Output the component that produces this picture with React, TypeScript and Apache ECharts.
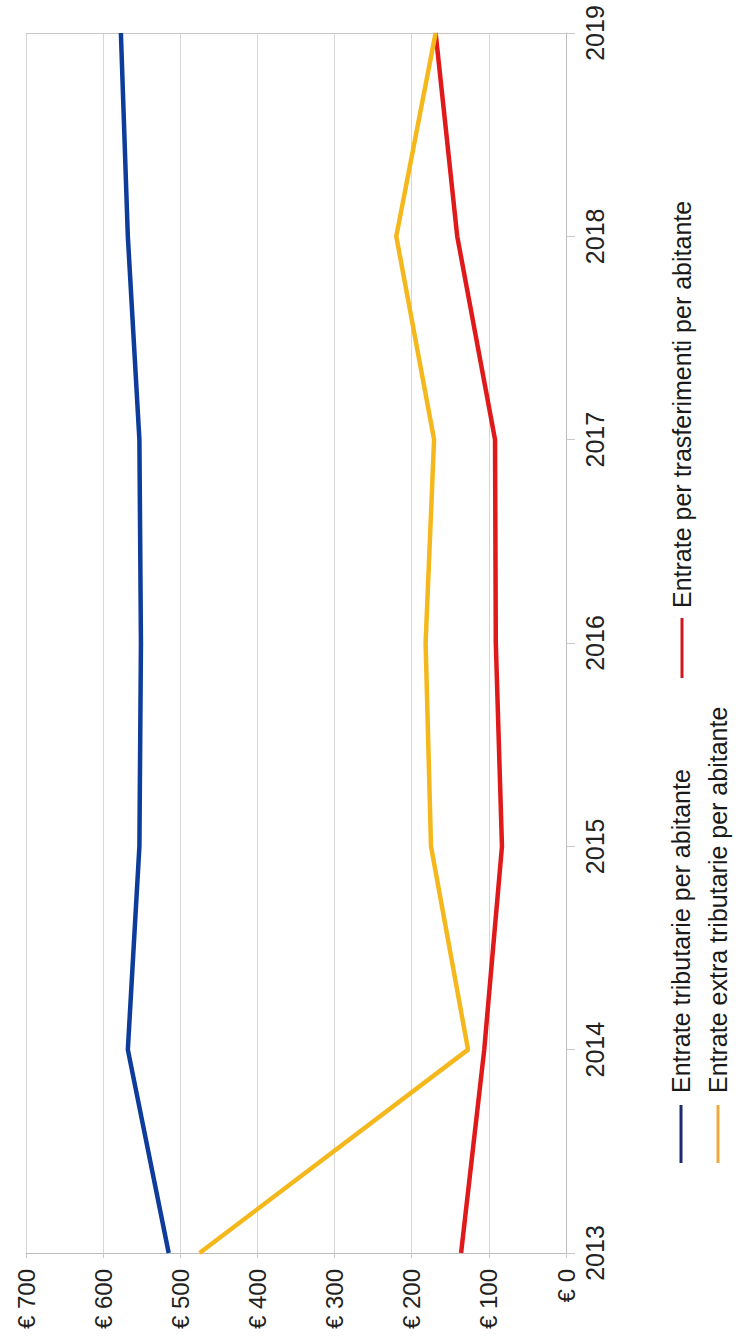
import React, { useEffect, useRef } from "react";
import * as echarts from "echarts";

const years = ["2013", "2014", "2015", "2016", "2017", "2018", "2019"];
const tributarie = [515, 568, 553, 551, 553, 568, 577];
const extraTributarie = [475, 127, 175, 182, 171, 220, 169];
const trasferimenti = [136, 106, 83, 91, 92, 141, 169];
const valueMin = 0;
const valueMax = 700;
const valueInterval = 100;
const seriesNames = [
  "Entrate tributarie per abitante",
  "Entrate extra tributarie per abitante",
  "Entrate per trasferimenti per abitante",
];

const FONT = '"Liberation Sans", Arial, Helvetica, sans-serif';

export default function App() {
  const ref = useRef<HTMLDivElement>(null);

  useEffect(() => {
    if (!ref.current) return;
    const chart = echarts.init(ref.current, undefined, { renderer: "svg" });

    const pairs = (vals: number[]) => vals.map((v, i) => [v, years[i]]);

    const legendText = (text: string, x: number, y: number) => ({
      type: "text",
      x,
      y,
      rotation: Math.PI / 2,
      style: {
        text,
        fontSize: 25,
        fontFamily: FONT,
        fill: "#1a1a1a",
        align: "left",
        verticalAlign: "middle",
      },
    });

    const option: any = {
      animation: false,
      backgroundColor: "#ffffff",
      grid: { left: 26, right: 172, top: 33, bottom: 90, containLabel: false },
      xAxis: [
        {
          type: "value",
          min: valueMin,
          max: valueMax,
          interval: valueInterval,
          inverse: true,
          position: "bottom",
          axisLine: { show: true, onZero: false, lineStyle: { color: "#bdbdbd", width: 1 } },
          axisTick: { show: true, length: 5, lineStyle: { color: "#c8c8c8" } },
          axisLabel: {
            rotate: 90,
            margin: 16,
            fontSize: 24,
            color: "#222222",
            fontFamily: FONT,
            formatter: (v: number) => "€ " + v,
          },
          splitLine: { show: true, lineStyle: { color: "#d6d6d6", width: 1 } },
        },
        {
          type: "value",
          min: valueMin,
          max: valueMax,
          interval: valueInterval,
          inverse: true,
          position: "top",
          axisLine: { show: true, onZero: false, lineStyle: { color: "#c8c8c8", width: 1 } },
          axisTick: { show: false },
          axisLabel: { show: false },
          splitLine: { show: false },
        },
      ],
      yAxis: {
        type: "category",
        data: years,
        boundaryGap: false,
        position: "right",
        axisLine: { show: true, onZero: false, lineStyle: { color: "#bdbdbd", width: 1 } },
        axisTick: { show: true, length: 9, lineStyle: { color: "#c8c8c8" } },
        axisLabel: {
          rotate: 90,
          margin: 16,
          fontSize: 25,
          color: "#222222",
          fontFamily: FONT,
        },
        splitLine: { show: false },
      },
      series: [
        {
          name: seriesNames[0],
          type: "line",
          xAxisIndex: 0,
          yAxisIndex: 0,
          data: pairs(tributarie),
          symbol: "none",
          lineStyle: { color: "#0d3c9a", width: 4.5 },
          itemStyle: { color: "#0d3c9a" },
          z: 3,
        },
        {
          name: seriesNames[2],
          type: "line",
          xAxisIndex: 0,
          yAxisIndex: 0,
          data: pairs(trasferimenti),
          symbol: "none",
          lineStyle: { color: "#e01a1a", width: 4.5 },
          itemStyle: { color: "#e01a1a" },
          z: 3,
        },
        {
          name: seriesNames[1],
          type: "line",
          xAxisIndex: 0,
          yAxisIndex: 0,
          data: pairs(extraTributarie),
          symbol: "none",
          lineStyle: { color: "#f5b81c", width: 4.5 },
          itemStyle: { color: "#f5b81c" },
          z: 4,
        },
      ],
      graphic: [
        { type: "line", shape: { x1: 681, y1: 1105, x2: 681, y2: 1163 }, style: { stroke: "#1b2a72", lineWidth: 3 } },
        legendText(seriesNames[0], 681, 1093),
        { type: "line", shape: { x1: 718, y1: 1105, x2: 718, y2: 1163 }, style: { stroke: "#eeab3a", lineWidth: 3 } },
        legendText(seriesNames[1], 718, 1093),
        { type: "line", shape: { x1: 682, y1: 618, x2: 682, y2: 678 }, style: { stroke: "#cc1a1f", lineWidth: 3 } },
        legendText(seriesNames[2], 682, 608),
      ],
    };

    chart.setOption(option);
    return () => chart.dispose();
  }, []);

  return (
    <div
      ref={ref}
      style={{ position: "absolute", left: 0, top: 0, width: 738, height: 1343, background: "#fff" }}
    />
  );
}
